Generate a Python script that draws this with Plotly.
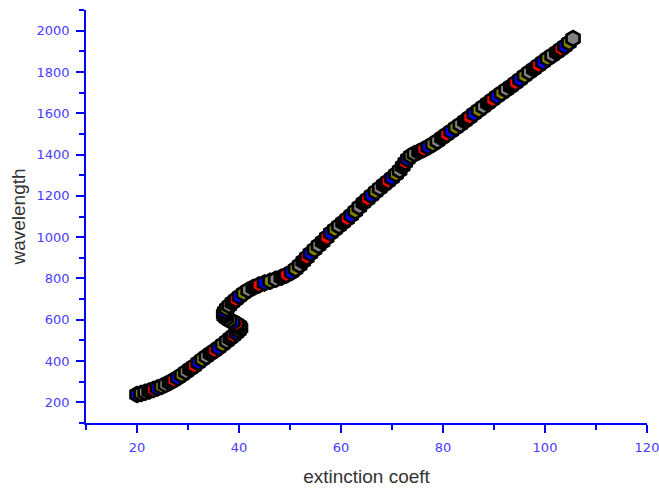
import plotly.graph_objects as go

# extinction coefficient (x) and wavelength (y)
ext_coeff = [
    20.0, 20.8, 21.6, 22.4, 23.2, 24.0, 24.8, 25.6, 26.4, 27.2, 28.0, 28.8, 29.6,
    30.4, 31.2, 32.0, 32.8, 33.6, 34.4, 35.2, 36.0, 36.8, 37.6, 38.3, 38.9, 39.5,
    40.0, 40.3, 40.1, 39.5, 38.8, 38.1, 37.5, 37.1, 37.0, 37.2, 37.6, 38.1, 38.7,
    39.4, 40.1, 40.9, 41.8, 42.8, 43.9,
    45.0, 46.1, 47.2, 48.3, 49.3, 50.3, 51.1, 51.9, 52.6, 53.3, 54.0, 54.8, 55.6,
    56.4, 57.2,
    58.0, 58.8, 59.6, 60.4, 61.2, 62.0, 62.8, 63.6, 64.4, 65.2, 66.0, 66.8, 67.6,
    68.4, 69.2, 70.0, 70.8, 71.5, 72.1, 72.6, 73.1, 73.7, 74.4,
    75.3, 76.2, 77.1, 78.0, 78.9, 79.8, 80.7, 81.6, 82.5, 83.4, 84.3, 85.2, 86.1,
    87.0, 87.9, 88.8, 89.7, 90.6, 91.5, 92.4, 93.3, 94.2, 95.1, 96.0, 96.9, 97.8,
    98.7, 99.6, 100.5, 101.4, 102.3, 103.1, 103.9, 104.7, 105.5,
]
wavelength = [
    238, 243, 249, 255, 262, 269, 277, 286, 296, 307, 319, 333, 347,
    361, 375, 392, 408, 422, 436, 450, 464, 480, 496, 510, 523, 536,
    548, 560, 571, 581, 590, 598, 607, 617, 628, 640, 654, 668, 683,
    698, 713, 728, 743, 756, 768,
    778, 787, 796, 806, 817, 830, 846, 864, 883, 902, 921, 940, 959,
    978, 998,
    1020, 1037, 1054, 1071, 1088, 1106, 1126, 1146, 1166, 1184, 1202, 1220, 1237,
    1254, 1270, 1287, 1305, 1323, 1343, 1362, 1379, 1393, 1404,
    1414, 1425, 1437, 1450, 1465, 1481, 1497, 1513, 1530, 1546, 1563, 1580, 1597,
    1614, 1631, 1648, 1665, 1682, 1698, 1714, 1730, 1747, 1764, 1781, 1798, 1814,
    1831, 1848, 1865, 1880, 1895, 1910, 1925, 1942, 1962,
]

x_ticks = [20, 40, 60, 80, 100, 120]
y_ticks = [200, 400, 600, 800, 1000, 1200, 1400, 1600, 1800, 2000]

palette = ["#000000", "#ff0000", "#0000ff", "#808000", "#808080"]
n = len(ext_coeff)
colors = [palette[(i - (n - 1) + 4) % len(palette)] for i in range(n)]

AXIS_BLUE = "#0000ff"
TICK_FONT = dict(family="DejaVu Sans, sans-serif", size=13, color="#4a3cff")
TITLE_FONT = dict(family="Liberation Sans, Arial, sans-serif", size=19, color="#333333")

fig = go.Figure()
fig.add_trace(go.Scatter(
    x=ext_coeff, y=wavelength, mode="markers",
    marker=dict(symbol="hexagon", size=15, color=colors,
                line=dict(color="#000000", width=2.6)),
    showlegend=False,
))

fig.update_layout(
    width=659, height=489,
    margin=dict(l=86, r=12, t=10, b=66),
    paper_bgcolor="white", plot_bgcolor="white",
    font=dict(family="Liberation Sans, Arial, sans-serif"),
)
fig.update_xaxes(
    range=[10, 120], tickvals=x_ticks, showgrid=False, zeroline=False,
    automargin=False, ticklabeloverflow="allow",
    showline=True, linecolor=AXIS_BLUE, linewidth=1.5,
    ticks="outside", ticklen=8, tickwidth=1.5, tickcolor=AXIS_BLUE,
    minor=dict(dtick=10, tick0=0, ticks="outside", ticklen=5, tickwidth=1.5,
               tickcolor=AXIS_BLUE, showgrid=False),
    tickfont=TICK_FONT, ticklabelstandoff=4,
    title=dict(text="extinction coeft", font=TITLE_FONT, standoff=15),
)
fig.update_yaxes(
    range=[100, 2100], tickvals=y_ticks, showgrid=False, zeroline=False,
    automargin=False, ticklabeloverflow="allow",
    showline=True, linecolor=AXIS_BLUE, linewidth=1.5,
    ticks="outside", ticklen=8, tickwidth=1.5, tickcolor=AXIS_BLUE,
    minor=dict(dtick=100, tick0=0, ticks="outside", ticklen=5, tickwidth=1.5,
               tickcolor=AXIS_BLUE, showgrid=False),
    tickfont=TICK_FONT, ticklabelstandoff=4,
    title=dict(text="wavelength", font=TITLE_FONT, standoff=6),
)

# remove the default page margin so the 659x489 figure fills the window exactly
fig.write_html(
    "out.html",
    config={"displayModeBar": False},
    post_script="document.body.style.margin='0';document.body.style.overflow='hidden';",
)
